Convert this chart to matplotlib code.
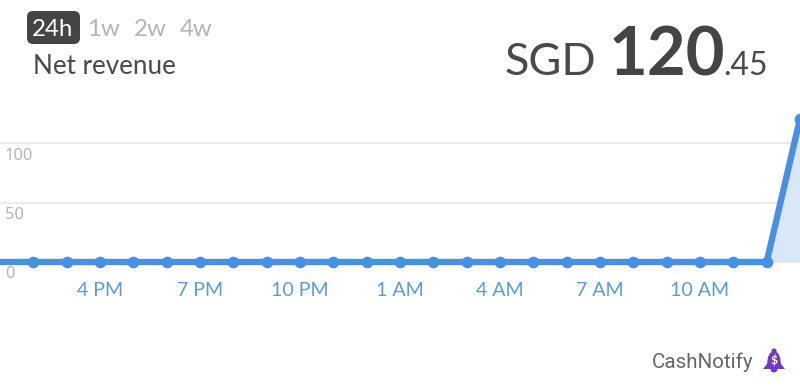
import matplotlib
matplotlib.use("Agg")
import matplotlib.pyplot as plt
from matplotlib.patches import FancyBboxPatch, Circle, Polygon, Wedge
from matplotlib.ticker import FixedLocator

hours = list(range(0, 25))
revenue = [0] * 24 + [120.45]
tick_hours = [3, 6, 9, 12, 15, 18, 21]
tick_labels = ["4 PM", "7 PM", "10 PM", "1 AM", "4 AM", "7 AM", "10 AM"]
y_ticks = [0, 50, 100]
ranges = ["1w", "2w", "4w"]
range_x = [103, 150, 196]

W, H = 800, 387
PX_Y = 1.19  # pixels per unit
Y0 = 262
BLUE = "#4a90e2"
px = lambda n: n * 0.72  # pixel font size to points at dpi 100

plt.rcParams["font.family"] = ["Lato", "DejaVu Sans"]
fig = plt.figure(figsize=(W / 100, H / 100), dpi=100, facecolor="white")
ax = fig.add_axes([0, 0, 1, 1])
ax.set_xlim(0, 24)
ax.set_ylim(-(H - Y0) / PX_Y, Y0 / PX_Y)
for s in ax.spines.values():
    s.set_visible(False)
ax.set_facecolor("white")

for v in y_ticks:
    ax.axhline(v, color="#e9e9e9", lw=1.3, zorder=1)
ax.fill_between(hours, revenue, 0, color="#d9e7f9", lw=0, zorder=2)
ax.plot(hours, revenue, color=BLUE, lw=4.6, marker="o", ms=8.4, mew=0,
        markevery=(1, 1), solid_joinstyle="round", zorder=3, clip_on=True)

ax.xaxis.set_major_locator(FixedLocator(tick_hours))
ax.set_xticklabels(tick_labels)
ax.yaxis.set_major_locator(FixedLocator([]))
ax.tick_params(axis="x", direction="in", length=0, labelsize=px(19.7), labelcolor="#5b9bdc")
for lab in ax.get_xticklabels():
    lab.set_y((H - 285.5) / H)
    lab.set_va("center")


def T(x, y, s, **kw):
    return fig.text(x / W, 1 - y / H, s, **kw)


for v in y_ticks:
    T(5, Y0 - v * PX_Y + 12.5, str(v), fontsize=px(16.5), color="#b5b5b5", ha="left", va="center",
      family="Noto Sans")

# overlay in pixel coordinates for the UI parts
ov = fig.add_axes([0, 0, 1, 1], facecolor="none")
ov.set_xlim(0, W)
ov.set_ylim(H, 0)
ov.axis("off")
ov.add_patch(FancyBboxPatch((27, 11), 53, 33, boxstyle="round,pad=0,rounding_size=6", lw=0, fc="#444444"))

T(53, 30, "24h", color="white", fontsize=px(24), ha="center", va="center")
for x, r in zip(range_x, ranges):
    T(x, 30, r, color="#b4b4b4", fontsize=px(24), ha="center", va="center")
T(33, 67, "Net revenue", color="#4a4a4a", fontsize=px(26), ha="left", va="center")

T(504, 75, "SGD", color="#4a4a4a", fontsize=px(45), ha="left", va="baseline")
T(609, 75, "120", color="#444444", fontsize=px(67), ha="left", va="baseline", fontweight="bold")
T(768, 75, ".45", color="#4a4a4a", fontsize=px(32), ha="right", va="baseline")

T(753, 362, "CashNotify", color="#666666", fontsize=px(20.5), ha="right", va="center",
  family="Roboto")

# bell icon
PUR = "#6f3cc0"
ov.add_patch(Circle((774, 351), 2.6, fc=PUR, lw=0))
ov.add_patch(Polygon([(768, 357), (770, 353), (774, 351), (778, 353), (780, 357), (781, 364),
                      (785, 369), (763, 369), (767, 364)], closed=True, fc=PUR, lw=0))
ov.add_patch(Wedge((774, 369), 3.5, 0, 180, fc=PUR, lw=0))
T(774, 360.5, "$", color="white", fontsize=px(12), ha="center", va="center", fontweight="bold")

fig.savefig("out.png", dpi=100, facecolor="white")
